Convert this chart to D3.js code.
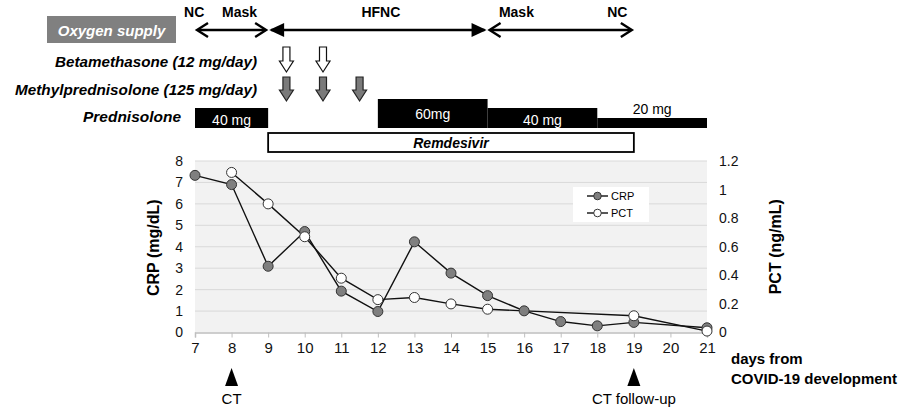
<!DOCTYPE html>
<html>
<head>
  <meta charset="utf-8">
  <title>CRP / PCT course</title>
  <script src="https://d3js.org/d3.v7.min.js"></script>
  <style>
    body { margin: 0; background: #fff; }
    text { font-family: "Liberation Sans", Arial, sans-serif; }
  </style>
</head>
<body>
  <svg id="chart"></svg>

  <script>
    // Data
    const days = [7, 8, 9, 10, 11, 12, 13, 14, 15, 16, 17, 18, 19, 20, 21];
    const crpDays = [7, 8, 9, 10, 11, 12, 13, 14, 15, 16, 17, 18, 19, 21];
    const crpValues = [7.33, 6.9, 3.09, 4.71, 1.93, 0.98, 4.23, 2.77, 1.72, 1.01, 0.51, 0.31, 0.47, 0.22];
    const pctDays = [8, 9, 10, 11, 12, 13, 14, 15, 19, 21];
    const pctValues = [1.12, 0.9, 0.67, 0.38, 0.23, 0.245, 0.2, 0.163, 0.117, 0.01];
    const crpTicks = [0, 1, 2, 3, 4, 5, 6, 7, 8];
    const pctTicks = [0, 0.2, 0.4, 0.6, 0.8, 1, 1.2];

    // Oxygen supply phases [from, to]
    const oxygenPhases = [[7, 9], [9, 15], [15, 19]];
    const oxygenLabels = [["NC", 6.7], ["Mask", 7.74], ["HFNC", 11.55], ["Mask", 15.31], ["NC", 18.27]];
    const betaDays = [9.5, 10.5];
    const methylDays = [9.5, 10.5, 11.5];
    // Prednisolone dosing: from, to, dose (mg)
    const prednisolone = [
      { from: 7, to: 9, dose: 40, label: "40 mg" },
      { from: 12, to: 15, dose: 60, label: "60mg" },
      { from: 15, to: 18, dose: 40, label: "40 mg" },
      { from: 18, to: 21, dose: 20, label: "20 mg" }
    ];
    const remdesivir = [9, 19];
    const ctDays = [[8, "CT"], [19, "CT follow-up"]];

    const svg = d3.select("#chart").attr("width", 911).attr("height", 407);

    const x = d3.scaleLinear().domain([7, 21]).range([195, 707]);
    const yL = d3.scaleLinear().domain([0, 8]).range([332.5, 161]);
    const yR = d3.scaleLinear().domain([0, 1.2]).range([332.5, 161]);

    // Plot background + grid
    svg.append("rect")
       .attr("x", x(7)).attr("y", yL(8))
       .attr("width", x(21) - x(7)).attr("height", yL(0) - yL(8))
       .attr("fill", "#f2f2f2");
    svg.append("g").selectAll("line")
       .data(crpTicks.slice(1))
       .join("line")
       .attr("x1", x(7)).attr("x2", x(21))
       .attr("y1", d => yL(d)).attr("y2", d => yL(d))
       .attr("stroke", "#d9d9d9").attr("stroke-width", 1);

    // Axes
    const xAxis = svg.append("g")
       .attr("transform", `translate(0,${yL(0)})`)
       .call(d3.axisBottom(x).tickValues(days).tickSize(5).tickPadding(5).tickFormat(d3.format("d")));
    xAxis.select(".domain").attr("stroke", "#bfbfbf").attr("stroke-width", 1.5);
    xAxis.selectAll(".tick line").attr("stroke", "#bfbfbf");
    xAxis.selectAll("text").attr("font-size", 15).attr("fill", "#111");

    const leftAxis = svg.append("g")
       .attr("transform", `translate(${x(7) - 6},0)`)
       .call(d3.axisLeft(yL).tickValues(crpTicks).tickSize(0).tickPadding(6));
    leftAxis.select(".domain").remove();
    leftAxis.selectAll("text").attr("font-size", 14).attr("fill", "#111");

    const rightAxis = svg.append("g")
       .attr("transform", `translate(${x(21) + 12},0)`)
       .call(d3.axisRight(yR).tickValues(pctTicks).tickSize(0).tickPadding(0).tickFormat(d => d3.format("")(d)));
    rightAxis.select(".domain").remove();
    rightAxis.selectAll("text").attr("font-size", 14).attr("fill", "#111");

    svg.append("text")
       .attr("transform", `translate(159,${(yL(0) + yL(8)) / 2 + 1}) rotate(-90)`)
       .attr("text-anchor", "middle")
       .attr("font-size", 16).attr("font-weight", "bold")
       .text("CRP (mg/dL)");
    svg.append("text")
       .attr("transform", `translate(781,${(yL(0) + yL(8)) / 2}) rotate(-90)`)
       .attr("text-anchor", "middle")
       .attr("font-size", 16).attr("font-weight", "bold")
       .text("PCT (ng/mL)");

    // Lines
    const crp = crpDays.map((d, i) => [d, crpValues[i]]);
    const pct = pctDays.map((d, i) => [d, pctValues[i]]);
    svg.append("path")
       .attr("d", d3.line().x(d => x(d[0])).y(d => yL(d[1]))(crp))
       .attr("fill", "none").attr("stroke", "#111").attr("stroke-width", 1.4);
    svg.append("path")
       .attr("d", d3.line().x(d => x(d[0])).y(d => yR(d[1]))(pct))
       .attr("fill", "none").attr("stroke", "#111").attr("stroke-width", 1.4);
    svg.append("g").selectAll("circle")
       .data(crp).join("circle")
       .attr("cx", d => x(d[0])).attr("cy", d => yL(d[1])).attr("r", 5)
       .attr("fill", "#7f7f7f").attr("stroke", "#333").attr("stroke-width", 1);
    svg.append("g").selectAll("circle")
       .data(pct).join("circle")
       .attr("cx", d => x(d[0])).attr("cy", d => yR(d[1])).attr("r", 5)
       .attr("fill", "#fff").attr("stroke", "#333").attr("stroke-width", 1);

    // Legend
    const lg = svg.append("g").attr("transform", "translate(573,187)");
    lg.append("rect").attr("width", 76).attr("height", 35).attr("fill", "#fff");
    [["CRP", "#7f7f7f"], ["PCT", "#fff"]].forEach(([name, fill], i) => {
      const yy = 9 + i * 17;
      lg.append("line").attr("x1", 14).attr("x2", 35).attr("y1", yy).attr("y2", yy)
        .attr("stroke", "#111").attr("stroke-width", 1.4);
      lg.append("circle").attr("cx", 24.5).attr("cy", yy).attr("r", 3.8)
        .attr("fill", fill).attr("stroke", "#333");
      lg.append("text").attr("x", 38).attr("y", yy + 4).attr("font-size", 11).text(name);
    });

    // Oxygen supply
    svg.append("rect").attr("x", 47).attr("y", 16).attr("width", 129).attr("height", 27).attr("fill", "#808080");
    svg.append("text").attr("x", 111.5).attr("y", 35.5).attr("text-anchor", "middle")
       .attr("font-size", 15).attr("font-weight", "bold").attr("font-style", "italic")
       .attr("fill", "#fff").text("Oxygen supply");

    const oy = 30;
    const ox = svg.append("g");
    oxygenPhases.forEach(([a, b], i) => {
      const filled = i === 1;
      const x0 = x(a) + 1, x1 = x(b) - 1;
      ox.append("line")
        .attr("x1", x0 + 2).attr("x2", x1 - 2).attr("y1", oy).attr("y2", oy)
        .attr("stroke", "#000").attr("stroke-width", 2.6);
      [[x0, 1], [x1, -1]].forEach(([tip, dir]) => {
        if (filled) {
          ox.append("path")
            .attr("d", `M${tip},${oy} L${tip + dir * 15},${oy - 7} L${tip + dir * 15},${oy + 7} Z`)
            .attr("fill", "#000");
        } else {
          ox.append("path")
            .attr("d", `M${tip + dir * 12},${oy - 7} L${tip + dir * 1},${oy} L${tip + dir * 12},${oy + 7}`)
            .attr("fill", "none").attr("stroke", "#000").attr("stroke-width", 2.4);
        }
      });
    });
    svg.append("g").selectAll("text")
       .data(oxygenLabels).join("text")
       .attr("x", d => x(d[1])).attr("y", 17)
       .attr("font-size", 14).attr("font-weight", "bold")
       .text(d => d[0]);

    // Steroid labels
    const drugLabel = (txt, xx, yy, len) => svg.append("text")
       .attr("x", xx - len).attr("y", yy)
       .attr("textLength", len).attr("lengthAdjust", "spacingAndGlyphs")
       .attr("font-size", 14.5).attr("font-weight", "bold").attr("font-style", "italic")
       .text(txt);
    drugLabel("Betamethasone (12 mg/day)", 257, 67, 202);
    drugLabel("Methylprednisolone (125 mg/day)", 257, 95, 242);
    drugLabel("Prednisolone", 181, 122, 98);

    const blockArrow = (cx, y0, y1) =>
      `M${cx - 3.5},${y0} L${cx + 3.5},${y0} L${cx + 3.5},${y1 - 11} L${cx + 7},${y1 - 11}` +
      ` L${cx},${y1} L${cx - 7},${y1 - 11} L${cx - 3.5},${y1 - 11} Z`;
    svg.append("g").selectAll("path")
       .data(betaDays).join("path")
       .attr("d", d => blockArrow(x(d), 47, 72))
       .attr("fill", "#fff").attr("stroke", "#111").attr("stroke-width", 1.2);
    svg.append("g").selectAll("path")
       .data(methylDays).join("path")
       .attr("d", d => blockArrow(x(d), 77, 101))
       .attr("fill", "#7a7a7a").attr("stroke", "#222").attr("stroke-width", 1.2);

    // Prednisolone bars (step heights by dose)
    const pTop = d3.scaleOrdinal().domain([20, 40, 60]).range([118, 108, 99]);
    svg.append("g").selectAll("rect")
       .data(prednisolone).join("rect")
       .attr("x", d => x(d.from)).attr("width", d => x(d.to) - x(d.from))
       .attr("y", d => pTop(d.dose)).attr("height", d => 128 - pTop(d.dose))
       .attr("fill", "#000");
    svg.append("g").selectAll("text")
       .data(prednisolone).join("text")
       .attr("x", d => (x(d.from) + x(d.to)) / 2)
       .attr("y", d => d.dose === 20 ? 114 : (d.dose === 60 ? 119 : 125))
       .attr("text-anchor", "middle").attr("font-size", 14)
       .attr("fill", d => d.dose === 20 ? "#000" : "#fff")
       .text(d => d.label);

    // Remdesivir
    svg.append("rect")
       .attr("x", x(remdesivir[0])).attr("y", 133)
       .attr("width", x(remdesivir[1]) - x(remdesivir[0])).attr("height", 19)
       .attr("fill", "#fff").attr("stroke", "#000").attr("stroke-width", 1.8);
    svg.append("text")
       .attr("x", (x(remdesivir[0]) + x(remdesivir[1])) / 2).attr("y", 148)
       .attr("text-anchor", "middle").attr("font-size", 14)
       .attr("font-weight", "bold").attr("font-style", "italic")
       .text("Remdesivir");

    // CT markers
    ctDays.forEach(([d, txt]) => {
      svg.append("path")
         .attr("d", `M${x(d)},368 L${x(d) + 6.5},386 L${x(d) - 6.5},386 Z`)
         .attr("fill", "#000");
      svg.append("text").attr("x", x(d)).attr("y", 404)
         .attr("text-anchor", "middle").attr("font-size", 15).text(txt);
    });

    // X axis title
    svg.append("text").attr("x", 731).attr("y", 364)
       .attr("font-size", 15).attr("font-weight", "bold").text("days from");
    svg.append("text").attr("x", 731).attr("y", 384)
       .attr("font-size", 15).attr("font-weight", "bold").text("COVID-19 development");
  </script>
</body>
</html>
